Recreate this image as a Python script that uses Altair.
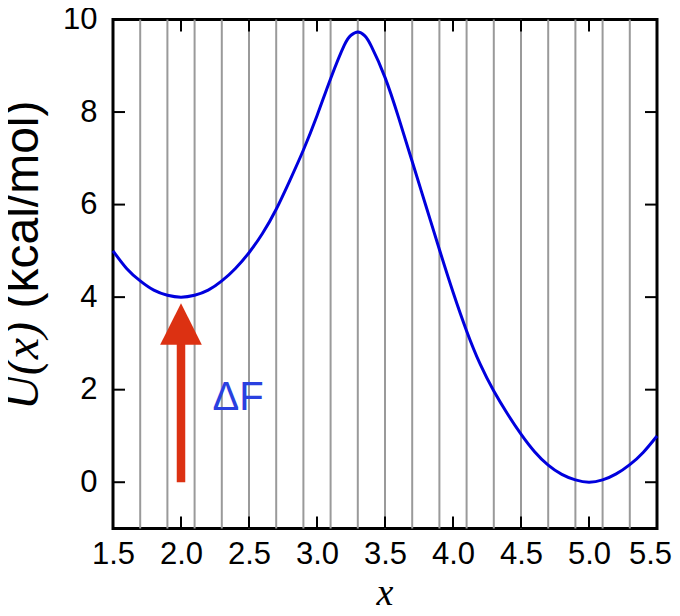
import altair as alt
import pandas as pd

# ---- data ----
x_vals = [1.5, 1.6, 1.7, 1.8, 1.9, 2.0, 2.1, 2.2, 2.3, 2.4, 2.5, 2.6, 2.7, 2.8,
          2.9, 3.0, 3.1, 3.2, 3.25, 3.3, 3.35, 3.4, 3.5, 3.6, 3.7, 3.8, 3.9,
          4.0, 4.1, 4.2, 4.3, 4.4, 4.5, 4.6, 4.7, 4.8, 4.9, 5.0, 5.1, 5.2,
          5.3, 5.4, 5.5]
u_vals = [5.0, 4.62, 4.35, 4.15, 4.04, 4.0, 4.04, 4.15, 4.35, 4.62, 4.96, 5.38,
          5.9, 6.52, 7.18, 7.92, 8.72, 9.44, 9.66, 9.73, 9.65, 9.42, 8.75, 7.88,
          6.93, 5.98, 5.03, 4.11, 3.27, 2.55, 1.97, 1.48, 1.04, 0.66, 0.37, 0.17,
          0.05, 0.0, 0.05, 0.18, 0.38, 0.65, 1.0]
grid_x = [1.7, 1.9, 2.1, 2.3, 2.5, 2.7, 2.9, 3.1, 3.3, 3.5, 3.7, 3.9, 4.1,
          4.3, 4.5, 4.7, 4.9, 5.1, 5.3]
x_ticks = [1.5, 2.0, 2.5, 3.0, 3.5, 4.0, 4.5, 5.0, 5.5]
y_ticks = [0, 2, 4, 6, 8, 10]
arrow_x = [2.0]
arrow_start = [0.0]
arrow_tip = [3.87]
shaft_end = [3.1]
note_x = [2.42]
note_y = [1.56]
note_text = ["ΔF"]

W, H = 544, 509
RED = "#dc3112"
BLUE = "#0000dd"

curve_df = pd.DataFrame({"x": x_vals, "u": u_vals})
grid_df = pd.DataFrame({"gx": grid_x})
xt_df = pd.DataFrame({"t": x_ticks})
yt_df = pd.DataFrame({"t": y_ticks})
arrow_df = pd.DataFrame({"x": arrow_x, "y0": arrow_start, "y1": shaft_end, "tip": arrow_tip})
note_df = pd.DataFrame({"x": note_x, "y": note_y, "label": note_text})

xs = alt.Scale(domain=[1.5, 5.5], nice=False, zero=False)
ys = alt.Scale(domain=[-1, 10], nice=False, zero=False)

x_axis = alt.Axis(values=x_ticks, format=".1f", title=None, grid=False, ticks=False,
                  tickSize=0, domain=False, labelFontSize=31, labelFont="Liberation Sans",
                  labelColor="black", labelPadding=11, labelFlush=False, labelOverlap=False,
                  labelOffset={"expr": "datum.value >= 5.5 ? -7 : 0"})
y_axis = alt.Axis(values=y_ticks, format="d", title=None, grid=False, ticks=False,
                  tickSize=0, domain=False, labelFontSize=31, labelFont="Liberation Sans",
                  labelColor="black", labelPadding=16, labelOverlap=False)

grid = alt.Chart(grid_df).mark_rule(color="#9a9a9a", strokeWidth=2).encode(
    x=alt.X("gx:Q", scale=xs, axis=x_axis))

curve = alt.Chart(curve_df).mark_line(color=BLUE, strokeWidth=3, interpolate="natural").encode(
    x=alt.X("x:Q", scale=xs, axis=x_axis),
    y=alt.Y("u:Q", scale=ys, axis=y_axis))

shaft = alt.Chart(arrow_df).mark_rule(color=RED, strokeWidth=8.5).encode(
    x=alt.X("x:Q", scale=xs, axis=x_axis), y=alt.Y("y0:Q", scale=ys, axis=y_axis), y2="y1:Q")

head = alt.Chart(arrow_df).mark_point(shape="M0,0L-1,2L1,2Z", size=1740, filled=True,
                                      color=RED, opacity=1, strokeWidth=0).encode(
    x=alt.X("x:Q", scale=xs, axis=x_axis), y=alt.Y("tip:Q", scale=ys, axis=y_axis))

note = alt.Chart(note_df).mark_text(font="Liberation Sans", fontSize=40, color="#2a40e0",
                                    align="center", baseline="alphabetic").encode(
    x=alt.X("x:Q", scale=xs, axis=x_axis), y=alt.Y("y:Q", scale=ys, axis=y_axis),
    text="label:N")

tick_len = 12
bot_ticks = alt.Chart(xt_df).mark_rule(color="black", strokeWidth=2).encode(
    x=alt.X("t:Q", scale=xs, axis=x_axis), y=alt.value(H), y2=alt.value(H - tick_len))
top_ticks = alt.Chart(xt_df).mark_rule(color="black", strokeWidth=2).encode(
    x=alt.X("t:Q", scale=xs, axis=x_axis), y=alt.value(0), y2=alt.value(tick_len))
left_ticks = alt.Chart(yt_df).mark_rule(color="black", strokeWidth=2).encode(
    y=alt.Y("t:Q", scale=ys, axis=y_axis), x=alt.value(0), x2=alt.value(tick_len))
right_ticks = alt.Chart(yt_df).mark_rule(color="black", strokeWidth=2).encode(
    y=alt.Y("t:Q", scale=ys, axis=y_axis), x=alt.value(W), x2=alt.value(W - tick_len))

title_df = pd.DataFrame({"a": [1]})
x_title = alt.Chart(title_df).mark_text(text="x", font="Liberation Serif", fontStyle="italic",
                                        fontSize=38, color="black", align="center",
                                        baseline="alphabetic").encode(
    x=alt.value(W / 2), y=alt.value(585))
y_title_u = alt.Chart(title_df).mark_text(text="U(x)", font="Liberation Serif", fontStyle="italic",
                                          fontSize=48, color="black", align="left",
                                          baseline="alphabetic", angle=270).encode(
    x=alt.value(-75), y=alt.value(390.5))
y_title_rest = alt.Chart(title_df).mark_text(text="(kcal/mol)", font="Liberation Sans",
                                             fontSize=48, color="black", align="left",
                                             baseline="alphabetic", angle=270).encode(
    x=alt.value(-75), y=alt.value(289))

chart = alt.layer(grid, curve, shaft, head, note, bot_ticks, top_ticks, left_ticks,
                  right_ticks, x_title, y_title_u, y_title_rest).properties(
    width=W, height=H,
    autosize=alt.AutoSizeParams(type="none"),
    padding={"left": 105, "top": 11.5, "right": 15, "bottom": 79.5},
).configure_view(stroke="black", strokeWidth=3)

chart.save("out.html", embed_options={"renderer": "svg", "actions": False})
